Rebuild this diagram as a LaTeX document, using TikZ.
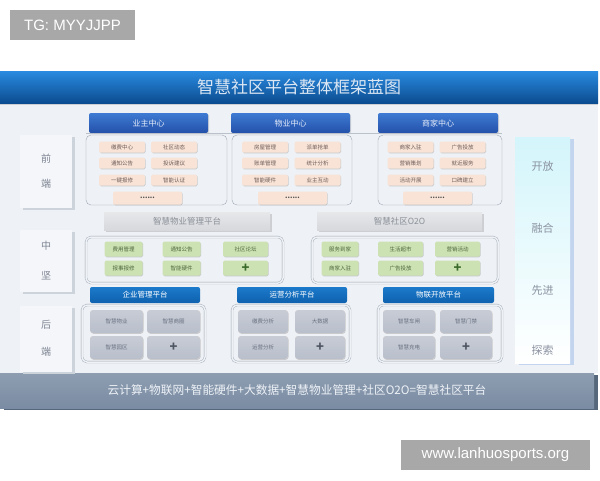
\documentclass[tikz,border=0pt]{standalone}
\usepackage{fontspec}
\setmainfont{Noto Sans CJK SC}
\newfontfamily\wmfont{Liberation Sans}
\usetikzlibrary{shadows}

\definecolor{titletop}{HTML}{2A8BE0}
\definecolor{titlebot}{HTML}{0B4C90}
\definecolor{titletext}{HTML}{DCE7F3}
\definecolor{panelbg}{HTML}{EEF1F5}
\definecolor{tabtop}{HTML}{3E7AD3}
\definecolor{tabbot}{HTML}{2451A9}
\definecolor{tabtext}{HTML}{E4ECFA}
\definecolor{btabtop}{HTML}{1C7ACB}
\definecolor{btabbot}{HTML}{0E61AE}
\definecolor{groupline}{HTML}{9EA7B3}
\definecolor{peach}{HTML}{F8E3D6}
\definecolor{peachtext}{HTML}{6E5C58}
\definecolor{greenfill}{HTML}{CDE2B2}
\definecolor{greentext}{HTML}{4D6640}
\definecolor{plusgreen}{HTML}{3A6A2A}
\definecolor{grayfill}{HTML}{B9BFCB}
\definecolor{graytext}{HTML}{6A7181}
\definecolor{plusgray}{HTML}{4F5663}
\definecolor{barfill}{HTML}{D6D8DC}
\definecolor{bartext}{HTML}{8A8F97}
\definecolor{sidefill}{HTML}{F4F6F9}
\definecolor{sideedge}{HTML}{CDD3DB}
\definecolor{sidetext}{HTML}{7D8492}
\definecolor{rtop}{HTML}{D3F5FB}
\definecolor{redge}{HTML}{C3D5EE}
\definecolor{rtext}{HTML}{8B92A0}
\definecolor{basefill}{HTML}{7A8CA3}
\definecolor{baseedge}{HTML}{56677C}
\definecolor{basetext}{HTML}{EEF2F7}
\definecolor{wmgray}{HTML}{A8A8A8}

\newcommand{\fsz}[1]{\fontsize{#1}{#1}\selectfont}

\begin{document}
\begin{tikzpicture}[x=1pt, y=-1pt,
        titlebar/.style={top color=titletop, bottom color=titlebot, minimum width=598pt, minimum height=32pt, text=titletext, font=\fsz{17}, drop shadow={shadow xshift=0pt, shadow yshift=-2pt, opacity=0.3}},
        fronttab/.style={rounded corners=2pt, top color=tabtop, bottom color=tabbot, minimum width=119pt, minimum height=20pt, text=tabtext, font=\fsz{8}, drop shadow={shadow xshift=1pt, shadow yshift=-1pt, opacity=0.25}},
        backtab/.style={rounded corners=2pt, top color=btabtop, bottom color=btabbot, minimum width=110pt, minimum height=16pt, text=white, font=\fsz{7.5}},
        platbar/.style={top color=barfill!60!white, bottom color=barfill, minimum width=166pt, minimum height=18pt, text=bartext, font=\fsz{8.5}, drop shadow={shadow xshift=1.5pt, shadow yshift=-1.5pt, opacity=0.3}},
        groupbox/.style={draw=groupline, rounded corners=5pt, inner sep=0pt},
        dblbox/.style={groupbox, double=panelbg, double distance=1.5pt},
        peachitem/.style={rounded corners=1.5pt, fill=peach, minimum width=46pt, minimum height=11pt, inner sep=0pt, text=peachtext, font=\fsz{5.5}, drop shadow={shadow xshift=0.6pt, shadow yshift=-0.8pt, opacity=0.35}},
        dotsitem/.style={peachitem, minimum width=69pt, minimum height=13pt, text=black!70, font=\fsz{7}\bfseries},
        greenitem/.style={peachitem, fill=greenfill, text=greentext, minimum width=38pt, minimum height=15pt},
        grayitem/.style={peachitem, rounded corners=3pt, top color=grayfill!80!white, bottom color=grayfill, text=graytext, minimum width=52pt, minimum height=23pt},
        plusgreenitem/.style={greenitem, text=plusgreen, font=\fsz{13}\bfseries},
        plusgrayitem/.style={grayitem, text=plusgray, font=\fsz{13}\bfseries},
        sidebox/.style={fill=sidefill, minimum width=52pt, align=center, text=sidetext, font=\fontsize{10}{12}\selectfont, general shadow={fill=sideedge, shadow xshift=2.5pt, shadow yshift=-2pt}},
        rightlbl/.style={text=rtext, font=\fsz{11}},
        watermark/.style={fill=wmgray, text=white, minimum height=30pt, font=\wmfont\fsz{15}}
    ]
        \useasboundingbox[fill=white] (0,0) rectangle (600,480);

        % Background panel and base bar
        \node[fill=panelbg, minimum width=598pt, minimum height=270pt, inner sep=0pt] (panel) at (299,238) {};
        \node[top color=basefill!85!white, bottom color=basefill, minimum width=594pt, minimum height=35pt, text=basetext, font=\fsz{11.7}, general shadow={fill=baseedge, shadow xshift=4pt, shadow yshift=-1.5pt}] (basebar) at (297,390.5) {云计算+物联网+智能硬件+大数据+智慧物业管理+社区O2O=智慧社区平台};

        % Title
        \node[titlebar] (title) at (299,87) {智慧社区平台整体框架蓝图};

        % Left labels
        \node[sidebox, minimum height=73pt] (lfront) at (46,171.5) {前\\[13pt]端};
        \node[sidebox, minimum height=62pt] (lmid) at (46,261) {中\\[18pt]坚};
        \node[sidebox, minimum height=66pt] (lback) at (46,338.5) {后\\[15pt]端};

        % Right label column
        \node[top color=rtop, bottom color=white, minimum width=55pt, minimum height=226pt, general shadow={fill=redge, shadow xshift=4pt, shadow yshift=-2pt}] (rcol) at (542.5,250) {};
        \node[rightlbl] (open) at (542.5,166) {开放};
        \node[rightlbl] (fuse) at (542.5,228) {融合};
        \node[rightlbl] (adv) at (542.5,290) {先进};
        \node[rightlbl] (expl) at (542.5,350) {探索};

        % Front end: centers
        \node[groupbox, minimum width=141pt, minimum height=70pt] (gowner) at (156.5,170) {};
        \node[groupbox, minimum width=120pt, minimum height=70pt] (gprop) at (292,170) {};
        \node[groupbox, minimum width=124pt, minimum height=70pt] (gshop) at (440,170) {};
        \node[fronttab] (towner) at (148.5,123) {业主中心};
        \node[fronttab] (tprop) at (290.5,123) {物业中心};
        \node[fronttab, minimum width=120pt] (tshop) at (438,123) {商家中心};
        \coordinate (divl) at ([yshift=2pt]gowner.north west);
        \coordinate (divr) at ([yshift=2pt]gshop.north east);
        \draw[groupline!70] (divl) -- (divr);

        % Owner center
        \node[peachitem] (o1) at (122,147) {缴费中心};
        \node[peachitem] (o2) at (174,147) {社区动态};
        \node[peachitem] (o3) at (122,163) {通知公告};
        \node[peachitem] (o4) at (174,163) {投诉建议};
        \node[peachitem] (o5) at (122,180) {一键报修};
        \node[peachitem] (o6) at (174,180) {智能认证};
        \node[dotsitem] (odots) at (147.5,198) {......};

        % Property center
        \node[peachitem] (p1) at (265,147) {房屋管理};
        \node[peachitem] (p2) at (317.5,147) {派单抢单};
        \node[peachitem] (p3) at (265,163) {账单管理};
        \node[peachitem] (p4) at (317.5,163) {统计分析};
        \node[peachitem] (p5) at (265,180) {智能硬件};
        \node[peachitem] (p6) at (317.5,180) {业主互动};
        \node[dotsitem] (pdots) at (292.5,198) {......};

        % Merchant center
        \node[peachitem] (s1) at (410.5,147) {商家入驻};
        \node[peachitem] (s2) at (462.5,147) {广告投放};
        \node[peachitem] (s3) at (410.5,163) {营销策划};
        \node[peachitem] (s4) at (462.5,163) {就近服务};
        \node[peachitem] (s5) at (410.5,180) {活动开展};
        \node[peachitem] (s6) at (462.5,180) {口碑建立};
        \node[dotsitem] (sdots) at (437.5,198) {......};

        % Middle: platforms
        \node[platbar] (pmgmt) at (187,221) {智慧物业管理平台};
        \node[platbar, minimum width=165pt] (po2o) at (399.5,221) {智慧社区O2O};
        \node[dblbox, minimum width=197pt, minimum height=46pt] (gmgmt) at (184.5,260) {};
        \node[dblbox, minimum width=186pt, minimum height=46pt] (go2o) at (405,260) {};

        \node[greenitem] (m1) at (123.5,249) {费用管理};
        \node[greenitem] (m2) at (181.5,249) {通知公告};
        \node[greenitem, minimum width=45pt] (m3) at (245.5,249) {社区论坛};
        \node[greenitem] (m4) at (123.5,268) {报事报修};
        \node[greenitem] (m5) at (181.5,268) {智能硬件};
        \node[plusgreenitem, minimum width=45pt] (m6) at (245.5,268) {+};

        \node[greenitem, minimum width=37pt] (c1) at (340,249) {服务到家};
        \node[greenitem, minimum width=45pt] (c2) at (400.5,249) {生活超市};
        \node[greenitem, minimum width=45pt] (c3) at (457.5,249) {营销活动};
        \node[greenitem, minimum width=37pt] (c4) at (340,268) {商家入驻};
        \node[greenitem, minimum width=45pt] (c5) at (400.5,268) {广告投放};
        \node[plusgreenitem, minimum width=45pt] (c6) at (457.5,268) {+};

        % Back end
        \node[backtab] (tent) at (145,295) {企业管理平台};
        \node[backtab] (tops) at (292,295) {运营分析平台};
        \node[backtab, minimum width=111pt] (tiot) at (438.5,295) {物联开放平台};
        \node[dblbox, minimum width=123pt, minimum height=57pt] (gent) at (143.5,333.5) {};
        \node[dblbox, minimum width=118pt, minimum height=57pt] (gops) at (291,333.5) {};
        \node[dblbox, minimum width=124pt, minimum height=57pt] (giot) at (440,333.5) {};

        \node[grayitem, minimum width=53pt] (e1) at (116.5,321.5) {智慧物业};
        \node[grayitem, minimum width=53pt] (e2) at (173.5,321.5) {智慧商圈};
        \node[grayitem, minimum width=53pt] (e3) at (116.5,347.5) {智慧园区};
        \node[plusgrayitem, minimum width=53pt] (e4) at (173.5,347.5) {+};

        \node[grayitem, minimum width=50pt] (a1) at (263,321.5) {缴费分析};
        \node[grayitem, minimum width=50pt] (a2) at (320,321.5) {大数据};
        \node[grayitem, minimum width=50pt] (a3) at (263,347.5) {运营分析};
        \node[plusgrayitem, minimum width=50pt] (a4) at (320,347.5) {+};

        \node[grayitem] (i1) at (409,321.5) {智慧车闸};
        \node[grayitem] (i2) at (466,321.5) {智慧门禁};
        \node[grayitem] (i3) at (409,347.5) {智慧充电};
        \node[plusgrayitem] (i4) at (466,347.5) {+};

        % Watermarks
        \node[watermark, minimum width=125pt] (wmtg) at (72.5,25) {TG: MYYJJPP};
        \node[watermark, minimum width=189pt] (wmurl) at (495.5,455) {www.lanhuosports.org};
    \end{tikzpicture}
\end{document}
